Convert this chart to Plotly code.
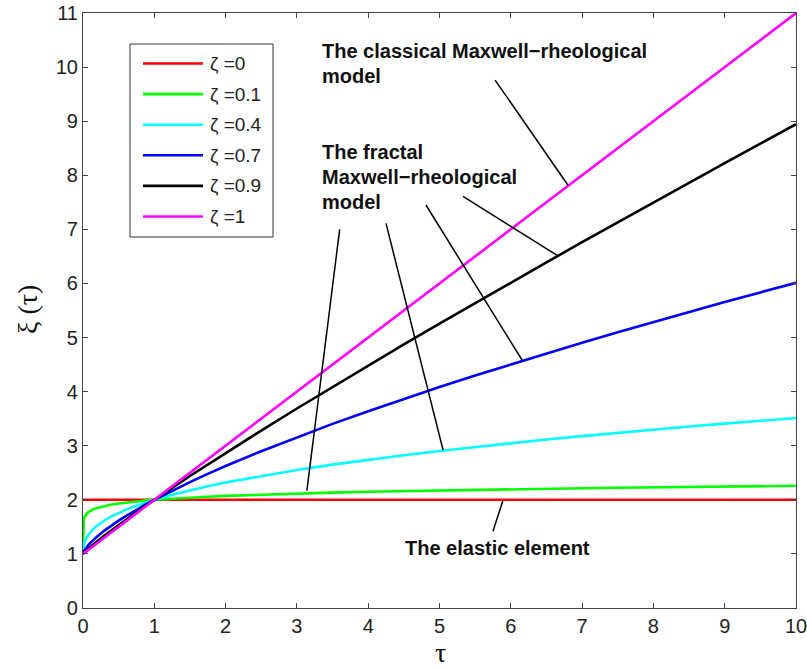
import plotly.graph_objects as go

# ---------------- data ----------------
tau = [0, 0.001, 0.002, 0.005, 0.01, 0.02, 0.03, 0.05, 0.075, 0.1, 0.15, 0.2, 0.3, 0.4,
       0.5, 0.6, 0.7, 0.8, 0.9, 1, 1.25, 1.5, 1.75, 2, 2.5, 3, 3.5, 4, 4.5, 5,
       5.5, 6, 6.5, 7, 7.5, 8, 8.5, 9, 9.5, 10]

xi_zeta_0 = [2.0] * 40
xi_zeta_01 = [1.000, 1.501, 1.537, 1.589, 1.631, 1.676, 1.704, 1.741, 1.772, 1.794,
              1.827, 1.851, 1.887, 1.912, 1.933, 1.950, 1.965, 1.978, 1.989, 2.000,
              2.023, 2.041, 2.058, 2.072, 2.096, 2.116, 2.133, 2.149, 2.162, 2.175,
              2.186, 2.196, 2.206, 2.215, 2.223, 2.231, 2.239, 2.246, 2.252, 2.259]
xi_zeta_04 = [1.000, 1.063, 1.083, 1.120, 1.158, 1.209, 1.246, 1.302, 1.355, 1.398,
              1.468, 1.525, 1.618, 1.693, 1.758, 1.815, 1.867, 1.915, 1.959, 2.000,
              2.093, 2.176, 2.251, 2.320, 2.443, 2.552, 2.651, 2.741, 2.825, 2.904,
              2.978, 3.048, 3.114, 3.178, 3.239, 3.297, 3.354, 3.408, 3.461, 3.512]
xi_zeta_07 = [1.000, 1.008, 1.013, 1.025, 1.040, 1.065, 1.086, 1.123, 1.163, 1.200,
              1.265, 1.324, 1.431, 1.527, 1.616, 1.699, 1.779, 1.855, 1.929, 2.000,
              2.169, 2.328, 2.480, 2.625, 2.899, 3.158, 3.404, 3.639, 3.866, 4.085,
              4.298, 4.505, 4.707, 4.905, 5.098, 5.287, 5.473, 5.655, 5.835, 6.012]
xi_zeta_09 = [1.000, 1.002, 1.004, 1.008, 1.016, 1.030, 1.043, 1.067, 1.097, 1.126,
              1.181, 1.235, 1.338, 1.438, 1.536, 1.631, 1.725, 1.818, 1.910, 2.000,
              2.222, 2.441, 2.655, 2.866, 3.281, 3.688, 4.088, 4.482, 4.872, 5.257,
              5.638, 6.016, 6.390, 6.762, 7.131, 7.498, 7.863, 8.225, 8.585, 8.943]
xi_zeta_1 = [1.000, 1.001, 1.002, 1.005, 1.010, 1.020, 1.030, 1.050, 1.075, 1.100,
             1.150, 1.200, 1.300, 1.400, 1.500, 1.600, 1.700, 1.800, 1.900, 2.000,
             2.250, 2.500, 2.750, 3.000, 3.500, 4.000, 4.500, 5.000, 5.500, 6.000,
             6.500, 7.000, 7.500, 8.000, 8.500, 9.000, 9.500, 10.000, 10.500, 11.000]

series = [xi_zeta_0, xi_zeta_01, xi_zeta_04, xi_zeta_07, xi_zeta_09, xi_zeta_1]
legend_labels = ["ζ =0", "ζ =0.1", "ζ =0.4", "ζ =0.7", "ζ =0.9", "ζ =1"]
colors = ["#ff0000", "#00ff00", "#00ffff", "#0000ff", "#000000", "#ff00ff"]

x_ticks = list(range(0, 11))
y_ticks = list(range(0, 12))

# ---------------- figure ----------------
W, H = 807, 668
L, R, T, B = 83, 11, 13, 60
PW, PH = W - L - R, H - T - B


def px(x):
    return (x - L) / PW


def py(y):
    return (H - B - y) / PH


fig = go.Figure()
for ys, lab, col in zip(series, legend_labels, colors):
    fig.add_trace(go.Scatter(x=tau, y=ys, mode="lines", name=lab,
                             line=dict(color=col, width=2.6), showlegend=False))

shapes = []
annotations = []

# custom legend box
shapes.append(dict(type="rect", xref="paper", yref="paper",
                   x0=px(130), x1=px(273), y0=py(44), y1=py(237),
                   line=dict(color="#333333", width=1), fillcolor="white", layer="below"))
for i, (lab, col) in enumerate(zip(legend_labels, colors)):
    yy = 63.5 + i * 30.6
    shapes.append(dict(type="line", xref="paper", yref="paper",
                       x0=px(143), x1=px(203), y0=py(yy), y1=py(yy),
                       line=dict(color=col, width=2.6)))
    annotations.append(dict(xref="paper", yref="paper", x=px(208), y=py(yy),
                            text=lab, showarrow=False, xanchor="left", yanchor="middle",
                            font=dict(family="Liberation Sans, Arial", size=19, color="#222222")))

# callout lines (data coordinates)
callouts = [
    ((5.78, 9.76), (6.80, 7.82)),
    ((5.33, 7.61), (6.65, 6.52)),
    ((3.60, 7.00), (3.14, 2.17)),
    ((4.25, 7.11), (5.05, 2.92)),
    ((4.81, 7.45), (6.16, 4.58)),
    ((5.89, 1.99), (5.75, 1.42)),
]
for (xa, ya), (xb, yb) in callouts:
    shapes.append(dict(type="line", xref="x", yref="y", x0=xa, y0=ya, x1=xb, y1=yb,
                       line=dict(color="black", width=1.5)))

texts = [
    ("The classical Maxwell−rheological", 320, 51),
    ("model", 320, 76),
    ("The fractal", 320, 152),
    ("Maxwell−rheological", 320, 177),
    ("model", 320, 202),
    ("The elastic element", 403, 548),
]
for t, x, y in texts:
    annotations.append(dict(xref="paper", yref="paper", x=px(x), y=py(y), text="<b>%s</b>" % t,
                            showarrow=False, xanchor="left", yanchor="middle",
                            font=dict(family="Liberation Sans, Arial", size=20, color="#111111")))

# axis titles
annotations.append(dict(xref="paper", yref="paper", x=px(440), y=py(652), text="τ",
                        showarrow=False, xanchor="center", yanchor="middle",
                        font=dict(family="Liberation Serif, Times New Roman", size=28, color="#111111")))
annotations.append(dict(xref="paper", yref="paper", x=px(27), y=py(310), text="ξ (τ)",
                        showarrow=False, xanchor="center", yanchor="middle", textangle=-90,
                        font=dict(family="Liberation Serif, Times New Roman", size=28, color="#111111")))

axis_common = dict(showgrid=False, zeroline=False, showline=True, linecolor="#444444", linewidth=1.2,
                   ticks="inside", ticklen=5, tickwidth=1, tickcolor="#444444", mirror="ticks",
                   ticklabeloverflow="allow",
                   tickfont=dict(family="Liberation Sans, Arial", size=20, color="#222222"))

fig.update_layout(
    width=W, height=H,
    margin=dict(l=L, r=R, t=T, b=B, autoexpand=False),
    paper_bgcolor="white", plot_bgcolor="white",
    xaxis=dict(range=[0, 10], tickvals=x_ticks, ticktext=[str(v) for v in x_ticks], **axis_common),
    yaxis=dict(range=[0, 11], tickvals=y_ticks, ticktext=[str(v) for v in y_ticks], **axis_common),
    shapes=shapes, annotations=annotations, showlegend=False,
)

fig.write_html("out.html", config={"displayModeBar": False},
               post_script="document.body.style.margin='0';")
